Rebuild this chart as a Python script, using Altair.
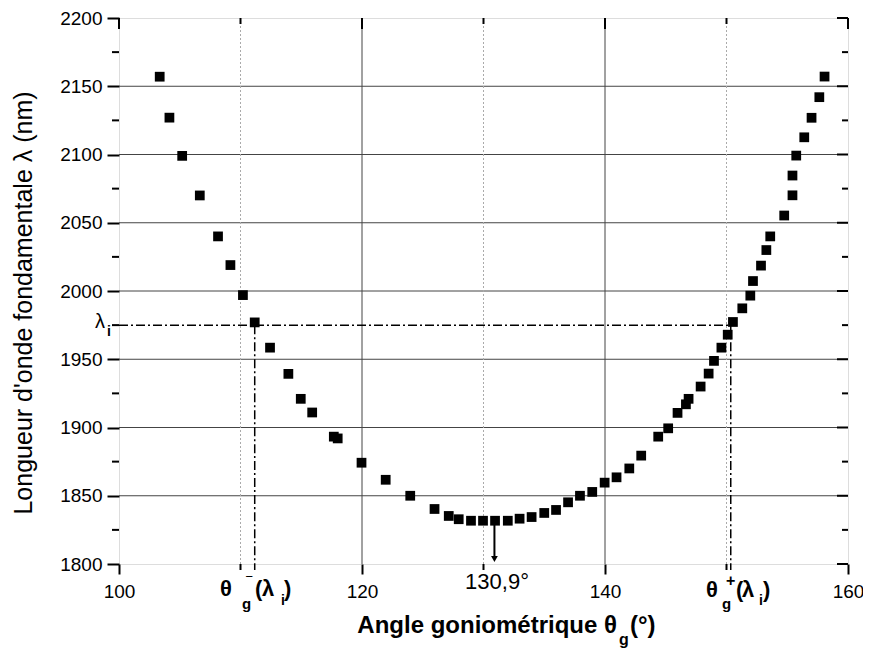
import altair as alt
import pandas as pd

# ---------------- data ----------------
angle = [103.35, 104.15, 105.2, 106.65, 108.15, 109.17, 110.2, 111.17, 112.43, 113.94,
         114.96, 115.9, 117.68, 118.0, 119.96, 121.95, 123.97, 125.97, 127.14, 127.96,
         128.97, 129.96, 130.95, 132.0, 132.97, 133.96, 135.0, 135.97, 136.96, 137.94,
         138.95, 139.97, 140.95, 142.0, 142.98, 144.38, 145.2, 145.97, 146.66, 146.88,
         147.87, 148.53, 148.97, 149.58, 150.1, 150.53, 151.3, 151.96, 152.18, 152.84,
         153.28, 153.6, 154.75, 155.43, 155.43, 155.74, 156.4, 157.0, 157.64, 158.07]
wavelength = [2157, 2127, 2099, 2070, 2040, 2019, 1997, 1977, 1958.5, 1939.3,
              1921, 1911, 1893.3, 1892, 1874.2, 1861.7, 1850, 1840.3, 1835.2, 1832.8,
              1831.7, 1831.7, 1831.7, 1831.7, 1833.2, 1834.4, 1837.4, 1839.6, 1845.2, 1850.0,
              1852.8, 1859.6, 1863.5, 1870.0, 1879.4, 1893.3, 1899.4, 1910.7, 1917, 1921,
              1930, 1939.5, 1948.8, 1958.5, 1968, 1977.3, 1987.3, 1996.6, 2007.3, 2018.6,
              2030, 2040, 2055.3, 2070.1, 2084.6, 2099.2, 2112.6, 2126.9, 2142, 2157.1]

x_major = [100, 120, 140, 160]
x_minor = [110, 130, 150]
y_major = [1800, 1850, 1900, 1950, 2000, 2050, 2100, 2150, 2200]
y_minor = [1825, 1875, 1925, 1975, 2025, 2075, 2125, 2175]
grid_y = [1850, 1900, 1950, 2000, 2050, 2100, 2150]
grid_x_solid = [120, 140]
grid_x_dotted = [110, 130, 150]

lambda_i = 1975
theta_minus = 111.17
theta_plus = 150.35
theta_min = 130.9
lambda_min = 1831.7
x_lo, x_hi = 100, 160
y_lo, y_hi = 1800, 2200

y_title = "Longueur d'onde fondamentale λ (nm)"
x_title_main = "Angle goniométrique θ"
x_title_sub = "g"
x_title_end = "(°)"
min_label = "130,9°"
minus_sup = "⁻"
plus_sup = "+"

# ---------------- chart ----------------
FONT = "Liberation Sans"
W, H = 729, 546
xs = alt.Scale(domain=[x_lo, x_hi], nice=False, zero=False)
ys = alt.Scale(domain=[y_lo, y_hi], nice=False, zero=False)

x_axis = alt.Axis(values=x_major, tickSize=10, tickWidth=2, tickColor="black", format="d",
                  labelFontSize=19, labelFont=FONT, labelColor="black", labelPadding=8,
                  domain=False, grid=False, title=None, labelFlush=False)
y_axis = alt.Axis(values=y_major, tickSize=12, tickWidth=2, tickColor="black", format="d",
                  labelFontSize=19, labelFont=FONT, labelColor="black", labelPadding=5,
                  domain=False, grid=False, title=None)


def X(field):
    return alt.X(field, type="quantitative", scale=xs, axis=x_axis)


def Y(field):
    return alt.Y(field, type="quantitative", scale=ys, axis=y_axis)


layers = []

# grid
layers.append(alt.Chart(pd.DataFrame({"v": grid_y})).mark_rule(color="#444444", strokeWidth=1)
              .encode(y=Y("v"), x=alt.value(0), x2=alt.value(W)))
layers.append(alt.Chart(pd.DataFrame({"v": grid_x_solid})).mark_rule(color="#444444", strokeWidth=1)
              .encode(x=X("v"), y=alt.value(0), y2=alt.value(H)))
layers.append(alt.Chart(pd.DataFrame({"v": grid_x_dotted})).mark_rule(color="#aaaaaa", strokeWidth=1,
                                                                      strokeDash=[2, 2])
              .encode(x=X("v"), y=alt.value(0), y2=alt.value(H)))

# dash-dot guide lines
dd = [9, 3, 2, 3]
layers.append(alt.Chart(pd.DataFrame({"x0": [x_lo], "x1": [theta_plus], "y": [lambda_i]}))
              .mark_rule(color="black", strokeWidth=1.5, strokeDash=dd)
              .encode(x=X("x0"), x2="x1:Q", y=Y("y")))
layers.append(alt.Chart(pd.DataFrame({"x": [theta_minus, theta_plus], "y": [lambda_i, lambda_i]}))
              .mark_rule(color="black", strokeWidth=1.5, strokeDash=dd)
              .encode(x=X("x"), y=Y("y"), y2=alt.value(H + 6)))

# arrow at the minimum
layers.append(alt.Chart(pd.DataFrame({"x": [theta_min], "y": [lambda_min]}))
              .mark_rule(color="black", strokeWidth=2)
              .encode(x=X("x"), y=Y("y"), y2=alt.value(H - 6)))
layers.append(alt.Chart(pd.DataFrame({"x": [theta_min]}))
              .mark_point(shape="triangle-down", filled=True, color="black", opacity=1, size=45)
              .encode(x=X("x"), y=alt.value(H - 5)))

# minor ticks (left, bottom: outward; right, top: inward)
ymin_df = pd.DataFrame({"v": y_minor})
ymaj_df = pd.DataFrame({"v": y_major})
xmin_df = pd.DataFrame({"v": x_minor})
layers.append(alt.Chart(ymin_df).mark_rule(color="black", strokeWidth=2)
              .encode(y=Y("v"), x=alt.value(-7), x2=alt.value(0)))
layers.append(alt.Chart(ymin_df).mark_rule(color="black", strokeWidth=2)
              .encode(y=Y("v"), x=alt.value(W - 6), x2=alt.value(W)))
layers.append(alt.Chart(ymaj_df).mark_rule(color="black", strokeWidth=2)
              .encode(y=Y("v"), x=alt.value(W - 11), x2=alt.value(W)))
layers.append(alt.Chart(xmin_df).mark_rule(color="black", strokeWidth=2)
              .encode(x=X("v"), y=alt.value(H), y2=alt.value(H + 6)))
layers.append(alt.Chart(xmin_df).mark_rule(color="black", strokeWidth=2)
              .encode(x=X("v"), y=alt.value(0), y2=alt.value(6)))
layers.append(alt.Chart(pd.DataFrame({"v": x_major})).mark_rule(color="black", strokeWidth=2)
              .encode(x=X("v"), y=alt.value(0), y2=alt.value(11)))

# data points
layers.append(alt.Chart(pd.DataFrame({"angle": angle, "wavelength": wavelength}))
              .mark_point(shape="square", filled=True, color="black", opacity=1, size=95)
              .encode(x=X("angle"), y=Y("wavelength")))


def txt(s, px, py, size, bold=False, align="left", angle=0, font=FONT):
    return (alt.Chart(pd.DataFrame({"t": [s]}))
            .mark_text(align=align, baseline="alphabetic", fontSize=size,
                       fontWeight="bold" if bold else "normal", font=font, color="black",
                       angle=angle)
            .encode(text="t:N", x=alt.value(px), y=alt.value(py)))


# theta_g^-(lambda_i)
layers += [txt("θ", 101, 578, 22, True), txt("g", 123, 591, 15, True),
           txt(minus_sup, 126, 566, 16, True, font="DejaVu Sans"), txt("(", 136, 578, 22, True),
           txt("λ", 143, 578, 22, True), txt("i", 162, 587, 14, True),
           txt(")", 165, 578, 22, True)]
# theta_g^+(lambda_i)
layers += [txt("θ", 587, 579, 22, True), txt("g", 603, 591, 15, True),
           txt(plus_sup, 607, 568, 16, True), txt("(", 617, 579, 22, True),
           txt("λ", 623, 579, 22, True), txt("i", 640, 587, 14, True),
           txt(")", 644, 579, 22, True)]
# lambda_i on the y axis
layers += [txt("λ", -24, 310, 20), txt("i", -12, 318, 14, True)]
# minimum label
layers.append(txt(min_label, 378, 571, 22, False, "center"))
# axis titles
layers += [txt(x_title_main, 498, 615, 24, True, "right"),
           txt(x_title_sub, 500, 627, 16, True),
           txt(x_title_end, 511, 615, 24, True)]
layers.append(txt(y_title, -87, 285, 25, False, "center", 270))

chart = (alt.layer(*layers)
         .properties(width=W, height=H,
                     autosize=alt.AutoSizeParams(type="none"),
                     padding={"left": 111, "top": 10, "right": 15, "bottom": 85})
         .configure_view(stroke="black", strokeWidth=2)
         .configure(background="white"))

chart.save("out.html", embed_options={"renderer": "svg", "actions": False})
